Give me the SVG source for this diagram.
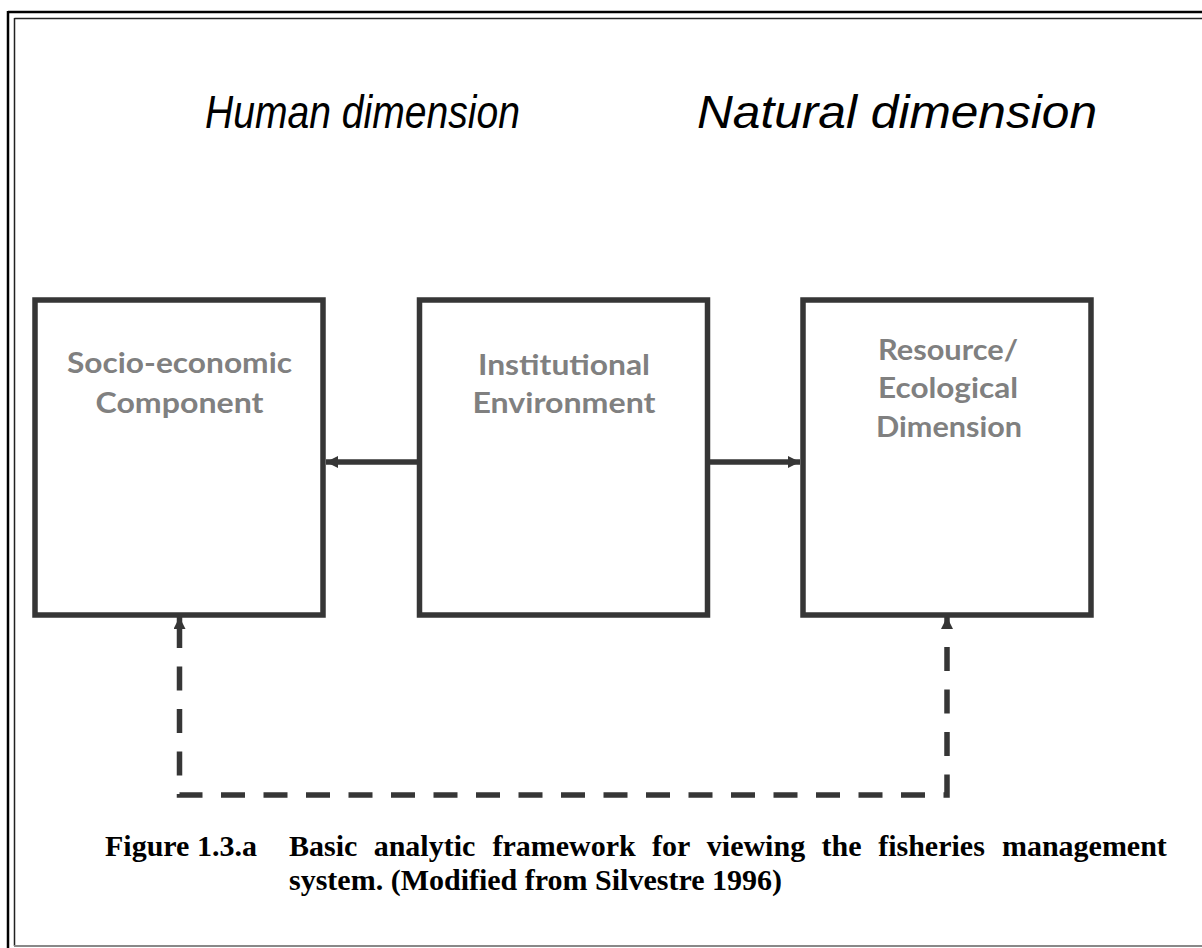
<svg xmlns="http://www.w3.org/2000/svg" width="1202" height="948" viewBox="0 0 1202 948">
  <style>
    .box { fill: #ffffff; stroke: #363636; stroke-width: 5.5; }
    .lbl { font-family: Lato, "Open Sans", "DejaVu Sans", sans-serif; font-weight: bold; font-size: 28px; fill: #808080; text-anchor: middle; }
    .dim { font-family: "Liberation Sans", Arial, sans-serif; font-style: italic; font-size: 46px; fill: #000000; }
    .cap { font-family: "Liberation Serif", "Times New Roman", serif; font-weight: bold; font-size: 30px; fill: #000000; }
    .conn { fill: none; stroke: #363636; stroke-width: 5.5; }
    .dash { stroke-dasharray: 24 18.5; }
  </style>
  <defs>
    <marker id="ah" viewBox="0 0 12 12" refX="12" refY="6" markerWidth="12" markerHeight="12" markerUnits="userSpaceOnUse" orient="auto">
      <path d="M0,0 L12,6 L0,12 Z" fill="#363636"/>
    </marker>
  </defs>

  <g id="frame">
    <line x1="8" y1="12" x2="1202" y2="12" stroke="#000" stroke-width="2.5"/>
    <line x1="8" y1="11" x2="8" y2="948" stroke="#000" stroke-width="2.5"/>
    <line x1="14.5" y1="18.5" x2="1202" y2="18.5" stroke="#222" stroke-width="1.5"/>
    <line x1="14.5" y1="18" x2="14.5" y2="946" stroke="#222" stroke-width="1.5"/>
    <line x1="14" y1="946" x2="1202" y2="946" stroke="#888" stroke-width="2"/>
  </g>

  <g id="title-human">
    <text class="dim" x="205" y="128" textLength="315" lengthAdjust="spacingAndGlyphs">Human dimension</text>
  </g>
  <g id="title-natural">
    <text class="dim" x="697" y="128" textLength="400" lengthAdjust="spacingAndGlyphs">Natural dimension</text>
  </g>

  <g id="node-socio">
    <rect class="box" x="35" y="300" width="288" height="315"/>
    <text class="lbl" x="179.5" y="373" textLength="225" lengthAdjust="spacingAndGlyphs">Socio-economic</text>
    <text class="lbl" x="179.5" y="413" textLength="168" lengthAdjust="spacingAndGlyphs">Component</text>
  </g>
  <g id="node-institutional">
    <rect class="box" x="419.5" y="300" width="288" height="315"/>
    <text class="lbl" x="564" y="375" textLength="172" lengthAdjust="spacingAndGlyphs">Institutional</text>
    <text class="lbl" x="564" y="413" textLength="183" lengthAdjust="spacingAndGlyphs">Environment</text>
  </g>
  <g id="node-resource">
    <rect class="box" x="803" y="300" width="288" height="315"/>
    <text class="lbl" x="948" y="360" textLength="140" lengthAdjust="spacingAndGlyphs">Resource/</text>
    <text class="lbl" x="948" y="398" textLength="140" lengthAdjust="spacingAndGlyphs">Ecological</text>
    <text class="lbl" x="949" y="437" textLength="146" lengthAdjust="spacingAndGlyphs">Dimension</text>
  </g>

  <g id="connectors">
    <line class="conn" x1="417" y1="462" x2="326" y2="462" marker-end="url(#ah)"/>
    <line class="conn" x1="710" y1="462" x2="800" y2="462" marker-end="url(#ah)"/>
    <path class="conn dash" d="M179.5,624 L179.5,795 L947,795 L947,624"/>
    <line class="conn" x1="179.5" y1="628" x2="179.5" y2="617" marker-end="url(#ah)"/>
    <line class="conn" x1="947" y1="628" x2="947" y2="617" marker-end="url(#ah)"/>
  </g>

  <g id="caption">
    <text class="cap" x="105" y="856">Figure 1.3.a</text>
    <text class="cap" y="856"><tspan x="289">Basic</tspan><tspan x="373.7">analytic</tspan><tspan x="492.4">framework</tspan><tspan x="652.1">for</tspan><tspan x="706.8">viewing</tspan><tspan x="821.5">the</tspan><tspan x="878.2">fisheries</tspan><tspan x="1001.9">management</tspan></text>
    <text class="cap" x="289" y="890">system. (Modified from Silvestre 1996)</text>
  </g>
</svg>
